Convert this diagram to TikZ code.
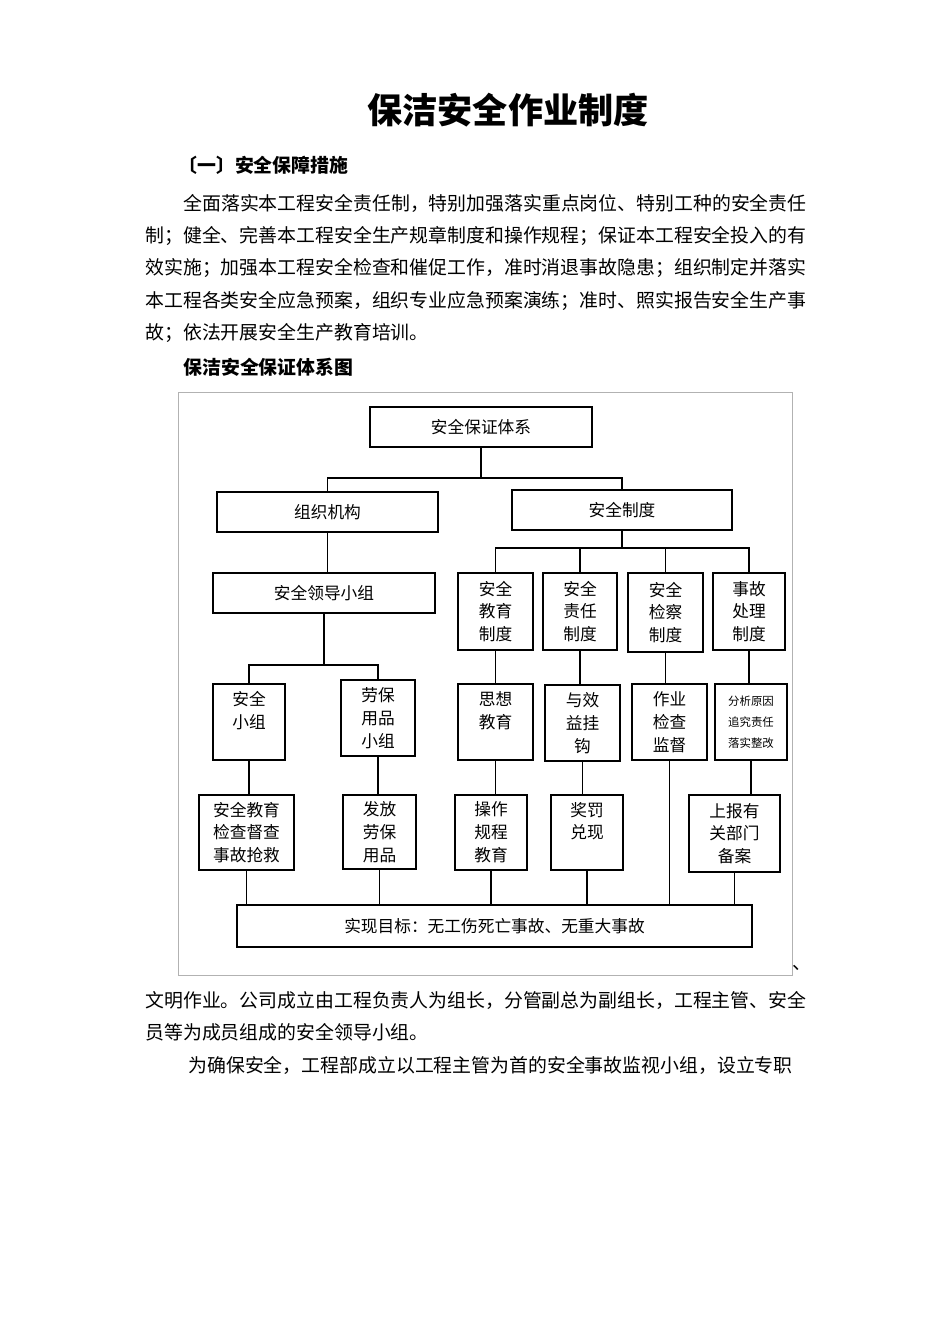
\documentclass[tikz,border=0pt]{standalone}
\usepackage{fontspec}
\setmainfont{Noto Sans CJK SC}
\usetikzlibrary{positioning}

\tikzset{
  box/.style={draw, thick, inner sep=0pt, align=center, font=\fontsize{9.5pt}{13pt}\selectfont},
  body/.style={anchor=west, inner sep=0pt, font=\fontsize{10.75pt}{13pt}\selectfont},
  link/.style={draw, semithick}
}

\begin{document}
\begin{tikzpicture}[x=0.02cm, y=-0.02cm]

    \useasboundingbox (0,0) rectangle (950,1344);

    % page text
    \node[anchor=center, inner sep=0pt, font=\fontsize{20pt}{24pt}\bfseries\selectfont] (title) at (508,110) {保洁安全作业制度};
    \node[body, font=\fontsize{10.75pt}{13pt}\bfseries\selectfont] (head) at (178,165) {〔一〕安全保障措施};
    \node[body] (p1) at (183,203) {全面落实本工程安全责任制，特别加强落实重点岗位、特别工种的安全责任};
    \node[body] (p2) at (145,236) {制；健全、完善本工程安全生产规章制度和操作规程；保证本工程安全投入的有};
    \node[body] (p3) at (145,268) {效实施；加强本工程安全检查和催促工作，准时消退事故隐患；组织制定并落实};
    \node[body] (p4) at (145,301) {本工程各类安全应急预案，组织专业应急预案演练；准时、照实报告安全生产事};
    \node[body] (p5) at (145,333) {故；依法开展安全生产教育培训。};
    \node[body, font=\fontsize{10.75pt}{13pt}\bfseries\selectfont] (cap) at (183,367) {保洁安全保证体系图};
    \node[body] (p6) at (792,968) {、};
    \node[body] (p7) at (145,1000) {文明作业。公司成立由工程负责人为组长，分管副总为副组长，工程主管、安全};
    \node[body] (p8) at (145,1032) {员等为成员组成的安全领导小组。};
    \node[body] (p9) at (188,1065) {为确保安全，工程部成立以工程主管为首的安全事故监视小组，设立专职};

    % frame of the chart
    \draw[gray!60] (178,392) rectangle (792,975);

    % boxes
    \node[box, minimum width=4.44cm, minimum height=0.8cm] (system) at (481,427) {安全保证体系};
    \node[box, minimum width=4.42cm, minimum height=0.8cm] (org) at (327.5,512) {组织机构};
    \node[box, minimum width=4.4cm, minimum height=0.8cm] (rules) at (622,510) {安全制度};
    \node[box, minimum width=4.44cm, minimum height=0.8cm] (lead) at (324,593) {安全领导小组};

    \node[box, minimum width=1.5cm, minimum height=1.54cm] (edu) at (495.5,611.5) {安全\\教育\\制度};
    \node[box, minimum width=1.48cm, minimum height=1.54cm] (resp) at (580,611.5) {安全\\责任\\制度};
    \node[box, minimum width=1.5cm, minimum height=1.58cm] (insp) at (665.5,612.5) {安全\\检察\\制度};
    \node[box, minimum width=1.44cm, minimum height=1.54cm] (acc) at (749,611.5) {事故\\处理\\制度};

    \node[box, minimum width=1.44cm, minimum height=1.52cm] (group) at (249,722) {安全\\小组\\\phantom{小}};
    \node[box, minimum width=1.48cm, minimum height=1.52cm] (ppe) at (378,718) {劳保\\用品\\小组};
    \node[box, minimum width=1.5cm, minimum height=1.52cm] (idea) at (495.5,722) {思想\\教育\\\phantom{小}};
    \node[box, minimum width=1.5cm, minimum height=1.52cm] (bonus) at (582.5,723) {与效\\益挂\\钩};
    \node[box, minimum width=1.5cm, minimum height=1.52cm] (work) at (669.5,722) {作业\\检查\\监督};
    \node[box, minimum width=1.44cm, minimum height=1.52cm, font=\fontsize{6.5pt}{12pt}\selectfont] (cause) at (751,722) {分析原因\\追究责任\\落实整改};

    \node[box, minimum width=1.9cm, minimum height=1.5cm] (rescue) at (246.5,832.5) {安全教育\\检查督查\\事故抢救};
    \node[box, minimum width=1.46cm, minimum height=1.48cm] (issue) at (379.5,832) {发放\\劳保\\用品};
    \node[box, minimum width=1.44cm, minimum height=1.5cm] (oper) at (491,832.5) {操作\\规程\\教育};
    \node[box, minimum width=1.44cm, minimum height=1.5cm] (reward) at (587,832.5) {奖罚\\兑现\\\phantom{小}};
    \node[box, minimum width=1.82cm, minimum height=1.54cm] (report) at (734.5,833.5) {上报有\\关部门\\备案};

    \node[box, minimum width=10.3cm, minimum height=0.84cm] (goal) at (494.5,926) {实现目标：无工伤死亡事故、无重大事故};

    % junctions
    \coordinate (topbar) at (481,478);
    \coordinate (rulebar) at (622,548);
    \coordinate (leadbar) at (324,665);

    % connectors
    \draw[link] (system) -- (topbar);
    \draw[link] (org.north) |- (topbar) -| (rules.north);
    \draw[link] (org.south) -- (org.south |- lead.north);
    \draw[link] (rules) -- (rulebar);
    \draw[link] (edu.north) |- (rulebar) -| (acc.north);
    \draw[link] (resp.north) -- (resp.north |- rulebar);
    \draw[link] (insp.north) -- (insp.north |- rulebar);
    \draw[link] (lead) -- (leadbar);
    \draw[link] (group.north) |- (leadbar) -| (ppe.north);

    \draw[link] (edu) -- (edu |- idea.north);
    \draw[link] (resp) -- (resp |- bonus.north);
    \draw[link] (insp) -- (insp |- work.north);
    \draw[link] (acc) -- (acc |- cause.north);

    \draw[link] (group) -- (group |- rescue.north);
    \draw[link] (ppe) -- (ppe |- issue.north);
    \draw[link] (idea) -- (idea |- oper.north);
    \draw[link] (bonus) -- (bonus |- reward.north);
    \draw[link] (cause) -- (cause |- report.north);

    \draw[link] (rescue) -- (rescue |- goal.north);
    \draw[link] (issue) -- (issue |- goal.north);
    \draw[link] (oper) -- (oper |- goal.north);
    \draw[link] (reward) -- (reward |- goal.north);
    \draw[link] (work) -- (work |- goal.north);
    \draw[link] (report) -- (report |- goal.north);

\end{tikzpicture}
\end{document}
